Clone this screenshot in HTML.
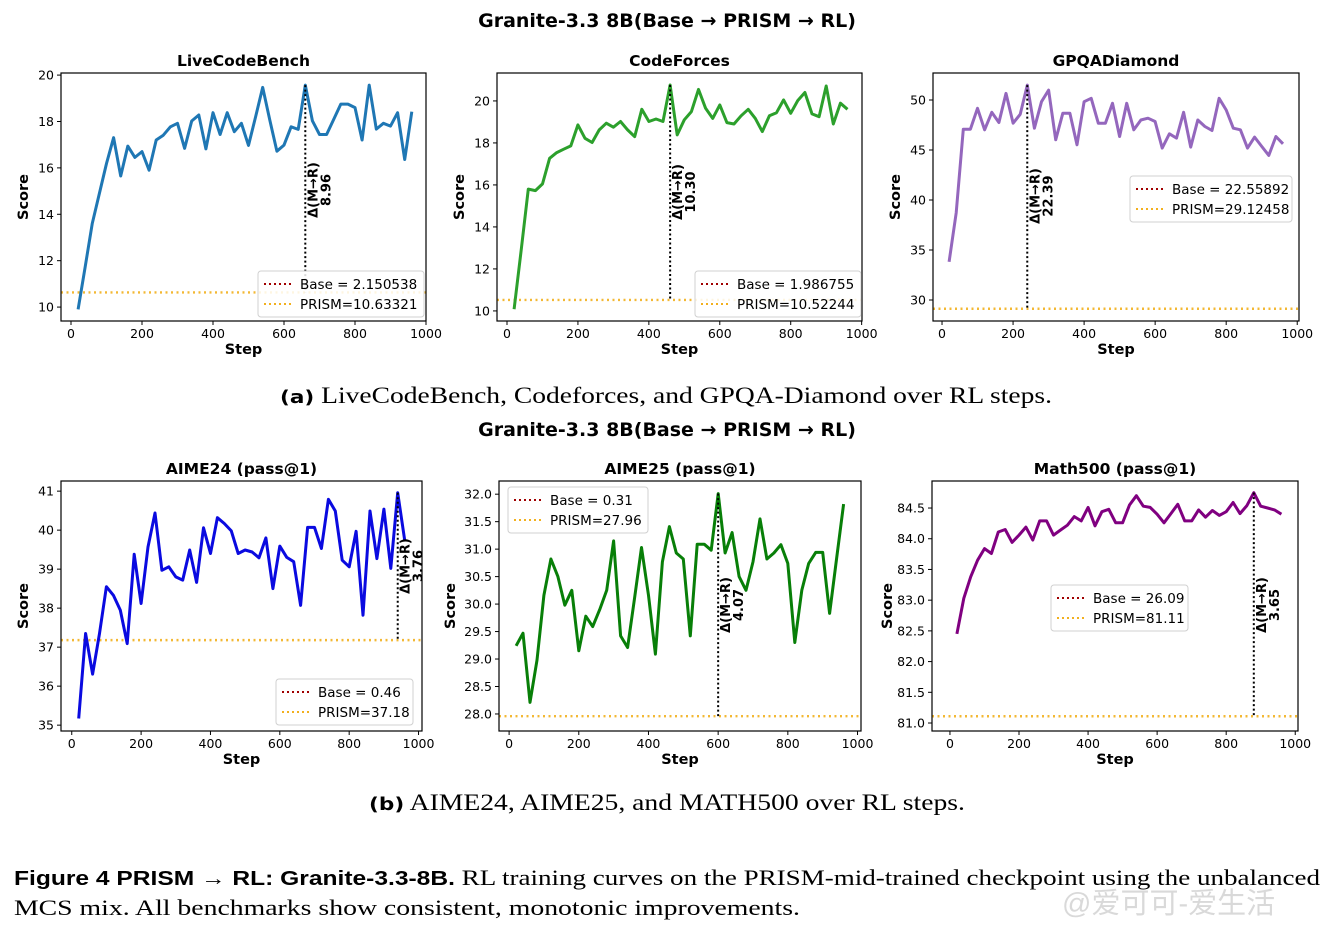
<!DOCTYPE html>
<html><head><meta charset="utf-8">
<style>
html,body{margin:0;padding:0;background:#fff;}
svg{display:block;}
</style></head>
<body>
<svg id="fig" width="1335" height="931" viewBox="0 0 1335 931" xmlns="http://www.w3.org/2000/svg" font-family="DejaVu Sans, Liberation Sans, sans-serif">
  <text x="667" y="27" text-anchor="middle" font-size="19" font-weight="bold">Granite-3.3 8B(Base → PRISM → RL)</text>
  <text x="667" y="436" text-anchor="middle" font-size="19" font-weight="bold">Granite-3.3 8B(Base → PRISM → RL)</text>
  <text x="280" y="403" font-size="23" font-family="Liberation Serif, serif" textLength="772" lengthAdjust="spacingAndGlyphs"><tspan font-family="DejaVu Sans, sans-serif" font-weight="bold" font-size="18">(a)</tspan>  LiveCodeBench, Codeforces, and GPQA-Diamond over RL steps.</text>
  <text x="369" y="810" font-size="23" font-family="Liberation Serif, serif" textLength="596" lengthAdjust="spacingAndGlyphs"><tspan font-family="DejaVu Sans, sans-serif" font-weight="bold" font-size="18">(b)</tspan>  AIME24, AIME25, and MATH500 over RL steps.</text>
  <text x="14" y="885" font-size="22" font-family="Liberation Serif, serif" textLength="1306" lengthAdjust="spacingAndGlyphs"><tspan font-family="Liberation Sans, sans-serif" font-weight="bold" font-size="20">Figure 4  PRISM → RL: Granite-3.3-8B.</tspan> RL training curves on the PRISM-mid-trained checkpoint using the unbalanced</text>
  <text x="14" y="915" font-size="22" font-family="Liberation Serif, serif" textLength="786" lengthAdjust="spacingAndGlyphs">MCS mix. All benchmarks show consistent, monotonic improvements.</text>
  <text x="1062" y="913" font-size="29" fill="#d0d0d0" fill-opacity="0.8" font-family="Liberation Sans, Noto Sans CJK SC, sans-serif">@爱可可-爱生活</text>
</svg>
<script>
const steps = [20,40,60,80,100,120,140,160,180,200,220,240,260,280,300,320,340,360,380,400,420,440,460,480,500,520,540,560,580,600,620,640,660,680,700,720,740,760,780,800,820,840,860,880,900,920,940,960];
const lcbScores = [9.9,11.74,13.61,14.9,16.19,17.3,15.65,16.94,16.45,16.7,15.9,17.2,17.41,17.77,17.92,16.84,18.02,18.28,16.82,18.38,17.44,18.38,17.56,17.92,16.97,18.2,19.47,18.06,16.72,16.98,17.77,17.66,19.57,18.03,17.44,17.44,18.09,18.75,18.75,18.6,17.2,19.57,17.67,17.92,17.8,18.38,16.36,18.42];
const cfScores = [10.08,12.9,15.8,15.73,16.05,17.27,17.54,17.7,17.86,18.86,18.22,18.02,18.62,18.94,18.75,19.02,18.62,18.3,19.6,19.02,19.14,19.02,20.76,18.38,19.1,19.49,20.55,19.65,19.17,19.81,18.97,18.9,19.29,19.6,19.17,18.54,19.29,19.44,20.05,19.41,20.02,20.4,19.38,19.25,20.71,18.9,19.89,19.6];
const gpqaScores = [33.82,38.72,47.08,47.08,49.17,47.02,48.77,47.75,50.66,47.68,48.57,51.49,47.18,49.83,50.99,46.02,48.67,48.67,45.52,49.83,50.17,47.68,47.68,49.67,46.35,49.67,47.02,48.0,48.18,47.85,45.19,46.62,46.19,48.77,45.29,48.0,47.35,46.95,50.17,49.0,47.18,47.02,45.19,46.29,45.36,44.46,46.35,45.62];
const aime24Scores = [35.17,37.35,36.31,37.35,38.55,38.33,37.95,37.09,39.38,38.12,39.57,40.44,38.97,39.06,38.8,38.72,39.49,38.66,40.06,39.4,40.32,40.17,39.98,39.4,39.49,39.44,39.29,39.8,38.5,39.59,39.3,39.19,38.07,40.07,40.07,39.53,40.79,40.49,39.23,39.06,39.97,37.82,40.49,39.27,40.54,39.02,40.96,39.74];
const aime25Scores = [29.24,29.47,28.21,28.98,30.16,30.82,30.5,29.98,30.25,29.15,29.78,29.59,29.9,30.25,31.15,29.42,29.21,30.1,31.03,30.16,29.09,30.77,31.41,30.93,30.82,29.42,31.09,31.09,30.98,32.01,30.93,31.3,30.5,30.25,30.77,31.55,30.82,30.93,31.08,30.74,29.3,30.25,30.74,30.94,30.94,29.83,30.83,31.82];
const mathScores = [82.45,83.03,83.38,83.65,83.84,83.76,84.11,84.15,83.94,84.06,84.19,83.98,84.29,84.29,84.06,84.14,84.22,84.36,84.29,84.51,84.21,84.44,84.48,84.26,84.26,84.55,84.7,84.53,84.51,84.4,84.26,84.41,84.56,84.29,84.29,84.47,84.35,84.46,84.38,84.44,84.59,84.41,84.54,84.75,84.53,84.5,84.47,84.4];
const panelTitles = ["LiveCodeBench","CodeForces","GPQADiamond","AIME24 (pass@1)","AIME25 (pass@1)","Math500 (pass@1)"];
const prismValues = [10.63321,10.52244,29.12458,37.18,27.96,81.11];
const baseLabels = ["Base = 2.150538","Base = 1.986755","Base = 22.55892","Base = 0.46","Base = 0.31","Base = 26.09"];
const prismLabels = ["PRISM=10.63321","PRISM=10.52244","PRISM=29.12458","PRISM=37.18","PRISM=27.96","PRISM=81.11"];
const deltaLabels = ["8.96","10.30","22.39","3.76","4.07","3.65"];
const deltaSteps = [660,460,240,940,600,880];
const yTicks = [[10,12,14,16,18,20],[10,12,14,16,18,20],[30,35,40,45,50],[35,36,37,38,39,40,41],[28,28.5,29,29.5,30,30.5,31,31.5,32],[81,81.5,82,82.5,83,83.5,84,84.5]];
const yDecimals = [0,0,0,0,1,1];
const xTicks = [0,200,400,600,800,1000];
const seriesList = [lcbScores,cfScores,gpqaScores,aime24Scores,aime25Scores,mathScores];

const panels = [
 {l:61,r:426,t:73,b:321,xlim:[-28.2,1000],ylim:[9.4,20.09],color:"#1f77b4",leg:[258,271,166],dy:190,yo:33,name:"livecodebench"},
 {l:497,r:862,t:73,b:321,xlim:[-28.2,1001],ylim:[9.52,21.33],color:"#2ca02c",leg:[695,271,166],dy:192,yo:33,name:"codeforces"},
 {l:933,r:1299,t:73,b:321,xlim:[-25.4,1005],ylim:[27.9,52.7],color:"#9467bd",leg:[1130,176,162],dy:196,yo:33,name:"gpqa-diamond"},
 {l:61,r:422,t:481,b:731,xlim:[-31,1010],ylim:[34.85,41.26],color:"#0a0ae0",leg:[276,679,137],dy:566,yo:33,name:"aime24"},
 {l:499,r:861,t:481,b:731,xlim:[-29,1010],ylim:[27.69,32.24],color:"#087f08",leg:[508,487,140],dy:605,yo:44,name:"aime25"},
 {l:932,r:1298,t:481,b:731,xlim:[-52,1008],ylim:[80.87,84.94],color:"#800080",leg:[1051,585,137],dy:605,yo:40,name:"math500"}
];
const NS="http://www.w3.org/2000/svg";
const svg=document.getElementById('fig');
function mk(tag,attrs,parent){const e=document.createElementNS(NS,tag);for(const k in attrs)e.setAttribute(k,attrs[k]);(parent||svg).appendChild(e);return e;}

panels.forEach((p,i)=>{
  const g=mk('g',{});
  
  
  const xs=v=>p.l+(v-p.xlim[0])/(p.xlim[1]-p.xlim[0])*(p.r-p.l);
  const ys=v=>p.b-(v-p.ylim[0])/(p.ylim[1]-p.ylim[0])*(p.b-p.t);
  const cp=mk('clipPath',{id:'c'+i},g);
  mk('rect',{x:p.l,y:p.t,width:p.r-p.l,height:p.b-p.t},cp);
  const pl=mk('line',{x1:p.l,x2:p.r,y1:ys(prismValues[i]),y2:ys(prismValues[i]),stroke:"#f2b01e","stroke-width":2.4,"stroke-dasharray":"2,3.5","stroke-opacity":0.9},g);
  
  
  const pts=seriesList[i].map((v,j)=>xs(steps[j]).toFixed(1)+','+ys(v).toFixed(1)).join(' ');
  const ln=mk('polyline',{points:pts,fill:'none',stroke:p.color,'stroke-width':3,'stroke-linejoin':'round','clip-path':'url(#c'+i+')'},g);
  
  
  const di=steps.indexOf(deltaSteps[i]);
  const dx=xs(deltaSteps[i]);
  const dl=mk('line',{x1:dx,x2:dx,y1:ys(seriesList[i][di]),y2:ys(prismValues[i]),stroke:'#000','stroke-width':2,'stroke-dasharray':'2,2.5'},g);
  
  
  const t1=mk('text',{x:dx+12,y:p.dy,'text-anchor':'middle','font-size':13,'font-weight':'bold',transform:`rotate(-90 ${dx+12} ${p.dy})`},g);
  t1.textContent='Δ(M→R)';
  
  
  const t2=mk('text',{x:dx+25,y:p.dy,'text-anchor':'middle','font-size':13,'font-weight':'bold',transform:`rotate(-90 ${dx+25} ${p.dy})`},g);
  t2.textContent=deltaLabels[i];
  
  
  const fr=mk('rect',{x:p.l,y:p.t,width:p.r-p.l,height:p.b-p.t,fill:'none',stroke:'#000','stroke-width':1.2},g);
  
  
  xTicks.forEach(v=>{
    const x=xs(v);
    mk('line',{x1:x,x2:x,y1:p.b,y2:p.b+4,stroke:'#000','stroke-width':1},g);
    const tt=mk('text',{x:x,y:p.b+17,'text-anchor':'middle','font-size':12.5},g);
    tt.textContent=String(v);
    
    
  });
  yTicks[i].forEach(v=>{
    const y=ys(v);
    mk('line',{x1:p.l-4,x2:p.l,y1:y,y2:y,stroke:'#000','stroke-width':1},g);
    const tt=mk('text',{x:p.l-7,y:y+4.5,'text-anchor':'end','font-size':12.5},g);
    tt.textContent=v.toFixed(yDecimals[i]);
    
    
  });
  const cx=(p.l+p.r)/2;
  const ti=mk('text',{x:cx,y:p.t-7,'text-anchor':'middle','font-size':15.5,'font-weight':'bold'},g);
  ti.textContent=panelTitles[i];
  
  
  const xl=mk('text',{x:cx,y:p.b+33,'text-anchor':'middle','font-size':14.5,'font-weight':'bold'},g);
  xl.textContent='Step';
  
  
  const cy=(p.t+p.b)/2, lx=p.l-p.yo;
  const yl=mk('text',{x:lx,y:cy,'text-anchor':'middle','font-size':14.5,'font-weight':'bold',transform:`rotate(-90 ${lx} ${cy})`},g);
  yl.textContent='Score';
  
  
  const [gx,gy,gw]=p.leg;
  const lg=mk('g',{},g);
  
  
  mk('rect',{x:gx,y:gy,width:gw,height:46,rx:3,fill:'#fff','fill-opacity':0.85,stroke:'#d0d0d0','stroke-width':1},lg);
  mk('line',{x1:gx+6,x2:gx+34,y1:gy+13,y2:gy+13,stroke:'#a00000','stroke-width':2,'stroke-dasharray':'2,3'},lg);
  mk('line',{x1:gx+6,x2:gx+34,y1:gy+33,y2:gy+33,stroke:'#f2b01e','stroke-width':2,'stroke-dasharray':'2,3'},lg);
  const b1=mk('text',{x:gx+42,y:gy+18,'font-size':13.5},lg);
  b1.textContent=baseLabels[i];
  
  
  const b2=mk('text',{x:gx+42,y:gy+38,'font-size':13.5},lg);
  b2.textContent=prismLabels[i];
  
  
});
</script>
</body></html>
